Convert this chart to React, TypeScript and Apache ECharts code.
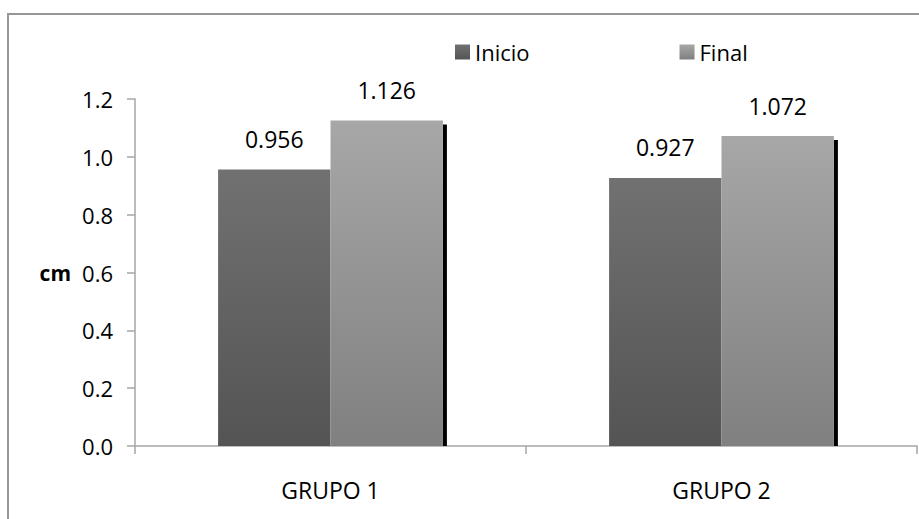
import React, { useEffect, useRef } from "react";
import * as echarts from "echarts";

const categories = ["GRUPO 1", "GRUPO 2"];
const inicio = [0.956, 0.927];
const final = [1.126, 1.072];
const seriesNames = ["Inicio", "Final"];
const yTicks = { min: 0, max: 1.2, interval: 0.2 };

const FONT = "'Open Sans', 'Noto Sans', sans-serif";
const CATEGORY_GAP = 0.425;

export default function App() {
  const ref = useRef<HTMLDivElement>(null);

  useEffect(() => {
    if (!ref.current) return;
    const chart = echarts.init(ref.current, undefined, { renderer: "svg" });

    const grad = (top: string, bottom: string) =>
      new echarts.graphic.LinearGradient(0, 0, 0, 1, [
        { offset: 0, color: top },
        { offset: 1, color: bottom },
      ]);

    const valueLabel = {
      show: true,
      position: "top",
      distance: 19,
      color: "#000",
      fontFamily: FONT,
      fontSize: 23,
      formatter: (p: any) => p.value.toFixed(3),
    };

    chart.setOption({
      animation: false,
      backgroundColor: "#fff",
      graphic: [
        {
          type: "rect",
          shape: { x: 8, y: 14, width: 930, height: 530 },
          style: { fill: "none", stroke: "#979797", lineWidth: 2 },
          silent: true,
          z: -1,
        },
      ],
      legend: {
        data: seriesNames,
        left: 450,
        top: 36,
        icon: "rect",
        itemWidth: 15,
        itemHeight: 15,
        itemGap: 150,
        textStyle: { color: "#000", fontFamily: FONT, fontSize: 22 },
      },
      grid: { left: 135, right: 2, top: 99, bottom: 73 },
      xAxis: {
        type: "category",
        data: categories,
        axisLine: { lineStyle: { color: "#a6a6a6", width: 1.5 } },
        axisTick: { show: true, length: 8, lineStyle: { color: "#a6a6a6", width: 1.5 } },
        axisLabel: { color: "#000", fontFamily: FONT, fontSize: 23, margin: 32 },
      },
      yAxis: {
        type: "value",
        min: yTicks.min,
        max: yTicks.max,
        interval: yTicks.interval,
        name: "cm",
        nameLocation: "middle",
        nameRotate: 0,
        nameGap: 64,
        nameTextStyle: { color: "#000", fontFamily: FONT, fontSize: 21, fontWeight: "bold", align: "right" },
        splitLine: { show: false },
        axisLine: { show: true, lineStyle: { color: "#a6a6a6", width: 1.5 } },
        axisTick: { show: true, length: 8, lineStyle: { color: "#a6a6a6", width: 1.5 } },
        axisLabel: {
          color: "#000",
          fontFamily: FONT,
          fontSize: 22,
          margin: 22,
          formatter: (v: number) => v.toFixed(1),
        },
      },
      series: [
        {
          name: seriesNames[0],
          type: "bar",
          data: inicio,
          barGap: "0%",
          barCategoryGap: CATEGORY_GAP * 100 + "%",
          itemStyle: { color: grad("#717171", "#545454") },
          label: valueLabel,
          z: 3,
        },
        {
          name: seriesNames[1],
          type: "bar",
          data: final,
          barGap: "0%",
          barCategoryGap: CATEGORY_GAP * 100 + "%",
          itemStyle: { color: grad("#a7a7a7", "#808080") },
          label: valueLabel,
          z: 3,
        },
        {
          // dark edge along the right side of the "Final" bars
          name: "edge",
          type: "custom",
          data: final.map((v, i) => [i, v]),
          z: 2,
          silent: true,
          renderItem: (params: any, api: any) => {
            const idx = api.value(0);
            const val = api.value(1);
            const top = api.coord([idx, val]);
            const base = api.coord([idx, 0]);
            const band = api.size([1, 0])[0];
            const barW = (band * (1 - CATEGORY_GAP)) / 2;
            return {
              type: "rect",
              shape: { x: top[0] + barW, y: top[1] + 4, width: 4, height: base[1] - top[1] - 4 },
              style: { fill: "#000" },
            };
          },
        },
      ],
    });

    return () => chart.dispose();
  }, []);

  return (
    <div
      ref={ref}
      style={{ position: "fixed", left: 0, top: 0, width: 919, height: 519 }}
    />
  );
}
